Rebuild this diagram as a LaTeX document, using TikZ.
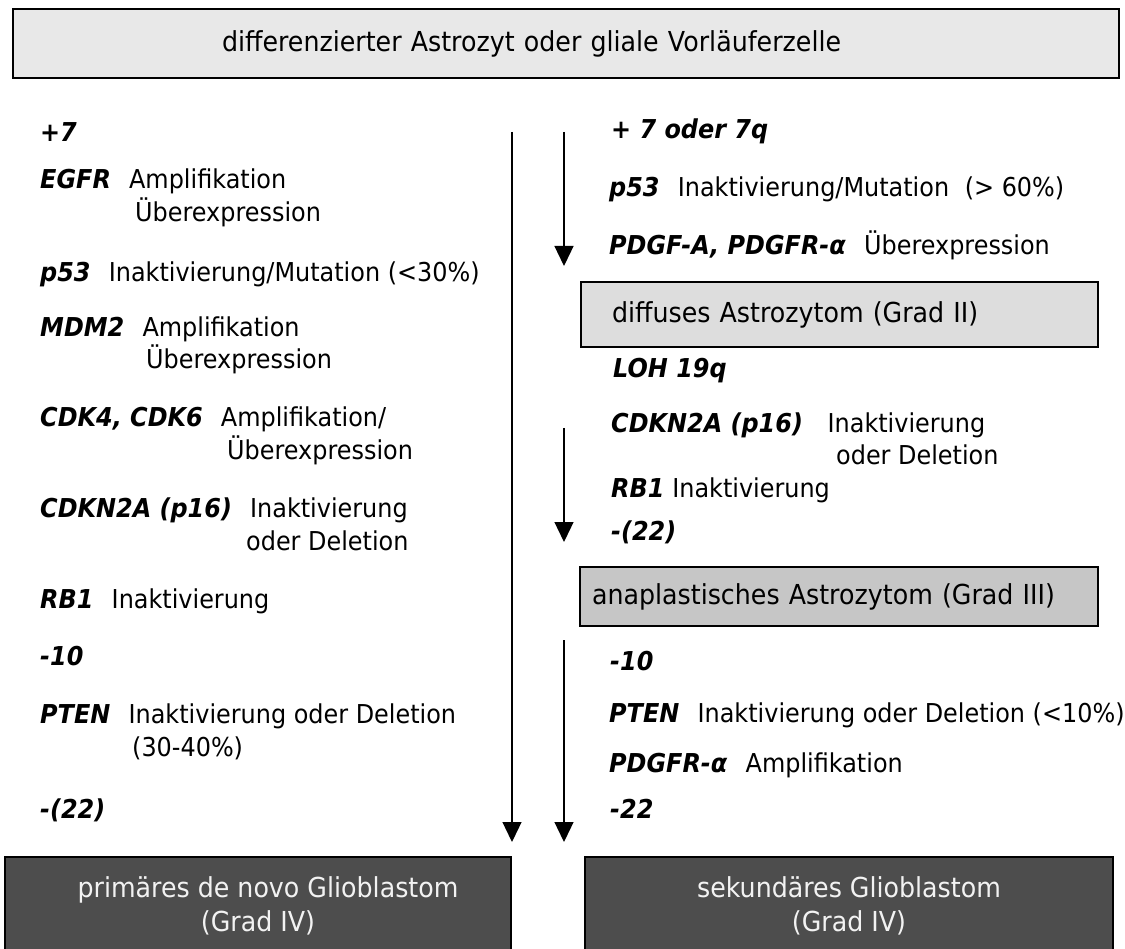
\documentclass[tikz,border=0pt]{standalone}
\usepackage{fontspec}
\setmainfont{DejaVu Sans}[FakeStretch=0.92]
\usetikzlibrary{arrows.meta}
\definecolor{topfill}{HTML}{E8E8E8}
\definecolor{g2fill}{HTML}{DDDDDD}
\definecolor{g3fill}{HTML}{C6C6C6}
\definecolor{gbfill}{HTML}{4D4D4D}
\definecolor{gbtext}{HTML}{F2F2F2}
\newcommand{\genename}[1]{\textbf{\textit{#1}}}
\newcommand{\gsp}{\hspace{0.7em}}
\tikzset{
  txt/.style={anchor=base west, inner sep=0pt, font=\fontsize{26}{30}\selectfont},
  boxbase/.style={draw=black, line width=1.3pt, inner ysep=0pt, font=\fontsize{27.5}{34}\selectfont},
  darkbox/.style={boxbase, line width=1.6pt, fill=gbfill, text=gbtext, align=center, font=\fontsize{27.5}{34}\selectfont},
  arr/.style={line width=1.3pt, -{Triangle[length=20pt,width=19pt]}},
  ln/.style={line width=1.3pt}
}
\begin{document}
\begin{tikzpicture}[x=1pt,y=-1pt]
\useasboundingbox (0,0) rectangle (1125,949);
\clip (0,0) rectangle (1125,949);

% top box
\node[boxbase, fill=topfill, minimum width=1106pt, minimum height=69pt,
      text width=688pt, align=left, inner xsep=209pt] (top) at (566,43.5)
      {differenzierter Astrozyt oder gliale Vorläuferzelle};

% left column
\node[txt] (l1)  at (40,142) {\genename{+7}};
\node[txt] (l2)  at (40,189) {\genename{EGFR}\gsp Amplifikation};
\node[txt] (l2b) at (135,222) {Überexpression};
\node[txt] (l3)  at (40,282) {\genename{p53}\gsp Inaktivierung/Mutation (<30\%)};
\node[txt] (l4)  at (40,337) {\genename{MDM2}\gsp Amplifikation};
\node[txt] (l4b) at (146,369) {Überexpression};
\node[txt] (l5)  at (40,427) {\genename{CDK4, CDK6}\gsp Amplifikation/};
\node[txt] (l5b) at (227,460) {Überexpression};
\node[txt] (l6)  at (40,518) {\genename{CDKN2A (p16)}\gsp Inaktivierung};
\node[txt] (l6b) at (246,550) {oder Deletion};
\node[txt] (l7)  at (40,608) {\genename{RB1}\gsp Inaktivierung};
\node[txt] (l8)  at (40,665) {\genename{-10}};
\node[txt] (l9)  at (40,723) {\genename{PTEN}\gsp Inaktivierung oder Deletion};
\node[txt] (l9b) at (132,756) {(30-40\%)};
\node[txt] (l10) at (40,818) {\genename{-(22)}};

% right column
\node[txt] (r1)  at (611,139) {\genename{+ 7 oder 7q}};
\node[txt] (r2)  at (609,197) {\genename{p53}\gsp Inaktivierung/Mutation\hspace{0.6em}(> 60\%)};
\node[txt] (r3)  at (609,255) {\genename{PDGF-A, PDGFR-α}\gsp Überexpression};
\node[boxbase, fill=g2fill, minimum width=517pt, minimum height=65pt,
      text width=455pt, align=left, inner xsep=31pt] (diff) at (839.5,314.5)
      {diffuses Astrozytom (Grad II)};
\node[txt] (r4)  at (613,378) {\genename{LOH 19q}};
\node[txt] (r5)  at (611,433) {\genename{CDKN2A (p16)}\hspace{0.95em}Inaktivierung};
\node[txt] (r5b) at (836,465) {oder Deletion};
\node[txt] (r6)  at (611,497) {\genename{RB1}\hspace{0.3em}Inaktivierung};
\node[txt] (r7)  at (611,540) {\genename{-(22)}};
\node[boxbase, fill=g3fill, minimum width=518pt, minimum height=59pt,
      text width=494pt, align=left, inner xsep=12pt] (ana) at (839,596.5)
      {anaplastisches Astrozytom (Grad III)};
\node[txt] (r8)  at (610,670) {\genename{-10}};
\node[txt] (r9)  at (609,722) {\genename{PTEN}\gsp Inaktivierung oder Deletion (<10\%)};
\node[txt] (r10) at (609,772) {\genename{PDGFR-α}\gsp Amplifikation};
\node[txt] (r11) at (610,818) {\genename{-22}};

% bottom boxes
\node[darkbox, minimum width=506pt, minimum height=98pt] (prim) at (258,906)
      {\hspace*{20pt}primäres de novo Glioblastom\\(Grad IV)};
\node[darkbox, minimum width=528pt, minimum height=98pt] (sek) at (849,906)
      {sekundäres Glioblastom\\(Grad IV)};

% arrows
\coordinate (a1s) at (512,132);
\coordinate (a1e) at (512,842);
\coordinate (a2s) at (564,132);
\coordinate (a2e) at (564,266);
\coordinate (a3s) at (564,428);
\coordinate (a3e) at (564,542);
\coordinate (a4s) at (564,640);
\coordinate (a4e) at (564,842);
\draw[arr] (a1s) -- (a1e);
\draw[arr] (a2s) -- (a2e);
\draw[arr] (a3s) -- (a3e);
\draw[arr] (a4s) -- (a4e);
\end{tikzpicture}
\end{document}
